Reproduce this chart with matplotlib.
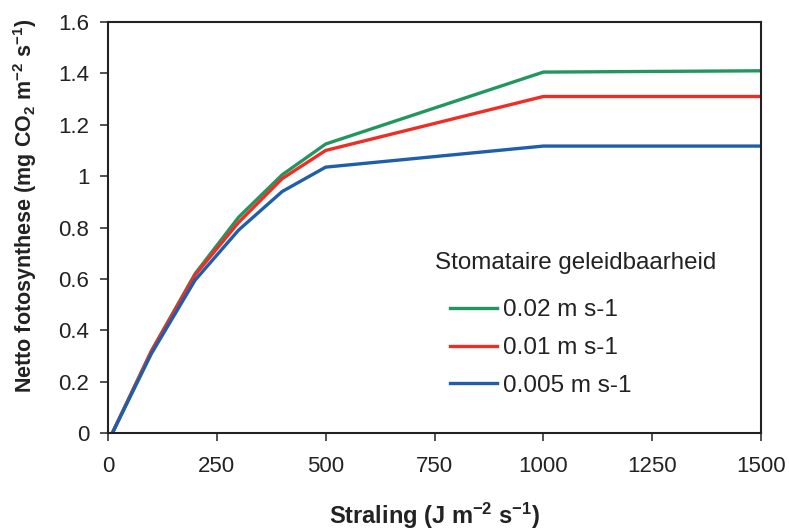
import numpy as np
import matplotlib
matplotlib.use("Agg")
import matplotlib.pyplot as plt

# Datos
straling = [10, 100, 200, 300, 400, 500, 1000, 1500]
fs_002 = [0.0, 0.32, 0.62, 0.84, 1.005, 1.125, 1.405, 1.41]
fs_001 = [0.0, 0.32, 0.615, 0.82, 0.99, 1.10, 1.31, 1.31]
fs_0005 = [0.0, 0.31, 0.595, 0.79, 0.94, 1.035, 1.117, 1.117]

etiquetas = ["0.02 m s-1", "0.01 m s-1", "0.005 m s-1"]
cores = ["#23965f", "#ee2e24", "#1f5eab"]

plt.rcParams["font.family"] = ["Liberation Sans", "DejaVu Sans"]
plt.rcParams["mathtext.fontset"] = "custom"
plt.rcParams["mathtext.rm"] = "Liberation Sans"
plt.rcParams["mathtext.bf"] = "Liberation Sans:bold"
plt.rcParams["mathtext.default"] = "bf"

fig = plt.figure(figsize=(7.89, 5.30), dpi=100)
ax = fig.add_axes([0.1369, 0.183, 0.8276, 0.7755])

for y, lab, c in zip([fs_002, fs_001, fs_0005], etiquetas, cores):
    ax.plot(straling, y, color=c, lw=2.4, label=lab, solid_joinstyle="miter")

ax.set_xlim(0, 1500)
ax.set_ylim(0, 1.6)
ax.set_xticks([0, 250, 500, 750, 1000, 1250, 1500])
ax.set_yticks([0, 0.2, 0.4, 0.6, 0.8, 1.0, 1.2, 1.4, 1.6])
ax.set_yticklabels(["0", "0.2", "0.4", "0.6", "0.8", "1", "1.2", "1.4", "1.6"])
ax.tick_params(labelsize=16, length=5.5, width=1.2, color="#333333",
               labelcolor="#222222")
ax.tick_params(axis="y", pad=8)
ax.tick_params(axis="x", pad=11)
for s in ax.spines.values():
    s.set_linewidth(1.5)
    s.set_color("#222222")

ax.set_xlabel("Straling (J m$^{-2}$ s$^{-1}$)", fontsize=17, fontweight="bold",
              color="#222222")
ax.xaxis.set_label_coords(0.5, -0.165)
ax.set_ylabel("Netto fotosynthese (mg CO$_2$ m$^{-2}$ s$^{-1}$)", fontsize=15.5,
              fontweight="bold", color="#222222")
ax.yaxis.set_label_coords(-0.105, 0.552)

# Título da lenda como texto aparte (está máis á esquerda cás liñas)
ax.text(0.5008, 0.4136, "Stomataire geleidbaarheid", fontsize=17.4,
        color="#222222", ha="left", va="center", transform=ax.transAxes)

leg = ax.legend(frameon=False, fontsize=17.5, loc="upper left",
                bbox_to_anchor=(0.5237, 0.325), labelspacing=0.64,
                handlelength=1.93, handletextpad=0.25, borderpad=0,
                borderaxespad=0)
for t in leg.get_texts():
    t.set_color("#222222")

fig.savefig("out.png", dpi=100)
